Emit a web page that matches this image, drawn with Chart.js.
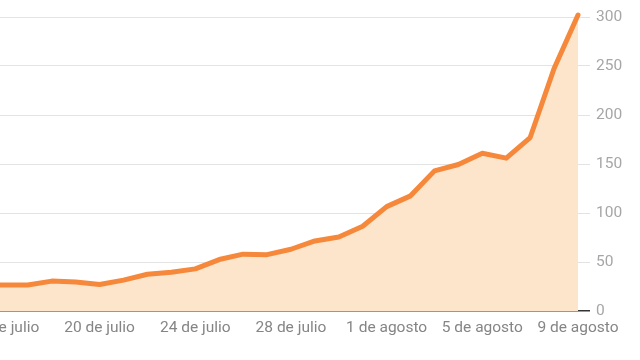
<!DOCTYPE html>
<html lang="es">
<head>
<meta charset="UTF-8">
<script src="https://cdn.jsdelivr.net/npm/chart.js"></script>
<style>
  html, body { margin: 0; padding: 0; background: #fff; overflow: hidden; }
  #wrap { position: absolute; left: -20px; top: 0; width: 660px; height: 360px; }
</style>
</head>
<body>
<div id="wrap"><canvas id="grafico"></canvas></div>
<script>
// dias (el primero queda fuera de la imagen, a la izquierda)
const dias = ['15 de julio', '16 de julio', '17 de julio', '18 de julio', '19 de julio', '20 de julio',
  '21 de julio', '22 de julio', '23 de julio', '24 de julio', '25 de julio', '26 de julio',
  '27 de julio', '28 de julio', '29 de julio', '30 de julio', '31 de julio', '1 de agosto',
  '2 de agosto', '3 de agosto', '4 de agosto', '5 de agosto', '6 de agosto', '7 de agosto',
  '8 de agosto', '9 de agosto'];
const valores = [26.5, 26.5, 26.5, 30.5, 29.5, 27, 31.5, 37.5, 39.5, 43, 52.5, 58, 57.5, 63,
  71.5, 75.5, 86.5, 106.5, 117.5, 143, 149.5, 161, 156, 177, 247.5, 302];
const etiquetasX = ['16 de julio', '20 de julio', '24 de julio', '28 de julio', '1 de agosto', '5 de agosto', '9 de agosto'];
const ticksY = [0, 50, 100, 150, 200, 250, 300];

Chart.defaults.font.family = 'Roboto, sans-serif';
Chart.defaults.font.size = 15.5;
Chart.defaults.color = '#999';

new Chart(document.getElementById('grafico'), {
  type: 'line',
  data: {
    labels: dias,
    datasets: [{
      data: valores,
      borderColor: '#f5883b',
      backgroundColor: '#fde5cb',
      borderWidth: 5,
      borderJoinStyle: 'round',
      borderCapStyle: 'round',
      pointRadius: 0,
      tension: 0,
      fill: 'origin',
      clip: false
    }]
  },
  options: {
    responsive: true,
    maintainAspectRatio: false,
    animation: false,
    layout: { padding: { top: 17, left: 0, right: 0, bottom: 0 } },
    plugins: { legend: { display: false }, tooltip: { enabled: false } },
    scales: {
      x: {
        offset: false,
        grid: { display: false, drawTicks: false },
        border: { display: false },
        ticks: {
          autoSkip: false,
          maxRotation: 0,
          padding: 8,
          color: '#858585',
          callback: function (v, i) {
            const l = dias[i];
            return etiquetasX.includes(l) ? l : null;
          }
        },
        afterFit: s => { s.height = 49; s.paddingLeft = 0; s.paddingRight = 0; }
      },
      y: {
        position: 'right',
        min: 0,
        max: 300,
        afterBuildTicks: s => { s.ticks = ticksY.map(v => ({ value: v })); },
        grid: {
          color: c => c.tick.value === 0 ? '#333' : '#e3e3e3',
          lineWidth: c => c.tick.value === 0 ? 1.5 : 1,
          tickLength: 12
        },
        border: { display: false },
        ticks: { padding: 6, color: '#a6a6a6' },
        afterFit: s => { s.width = 62; s.paddingTop = 0; s.paddingBottom = 0; }
      }
    }
  }
});
</script>
</body>
</html>
